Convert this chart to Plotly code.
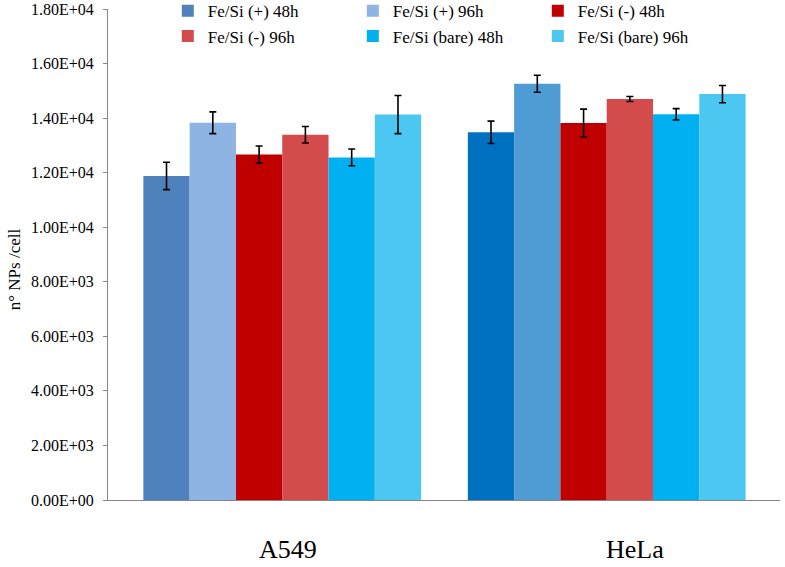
import plotly.graph_objects as go

categories = ["A549", "HeLa"]
series_names = ["Fe/Si (+) 48h", "Fe/Si (+) 96h", "Fe/Si (-) 48h",
                "Fe/Si (-) 96h", "Fe/Si (bare) 48h", "Fe/Si (bare) 96h"]
values = [
    [11880, 13480],
    [13830, 15260],
    [12670, 13820],
    [13390, 14700],
    [12560, 14140],
    [14130, 14880],
]
errors = [
    [500, 410],
    [400, 312],
    [310, 510],
    [300, 90],
    [306, 208],
    [700, 318],
]
colors = [
    ["#4F81BD", "#0070C0"],
    ["#8EB4E3", "#4F9BD4"],
    ["#C00000", "#C00000"],
    ["#D34B4B", "#D34B4B"],
    ["#00B0F0", "#00B0F0"],
    ["#4BC7F2", "#4BC7F2"],
]
tick_vals = [0, 2000, 4000, 6000, 8000, 10000, 12000, 14000, 16000, 18000]
tick_text = [f"{v:.2E}" for v in tick_vals]
y_title = "n° NPs /cell"

FONT = "Liberation Serif, Times New Roman, serif"

fig = go.Figure()
for name, vals, errs, cols in zip(series_names, values, errors, colors):
    fig.add_trace(go.Bar(
        name=name, x=categories, y=vals,
        marker=dict(color=cols, line=dict(width=0)),
        error_y=dict(type="data", array=errs, visible=True,
                     color="black", thickness=1.6, width=3.5),
    ))

fig.update_layout(
    width=785, height=567,
    margin=dict(l=108, r=5, t=9, b=67, autoexpand=False),
    paper_bgcolor="white", plot_bgcolor="white",
    barmode="group", bargap=0.144, bargroupgap=0,
    font=dict(family=FONT, color="black"),
    legend=dict(orientation="h", x=0.089, y=1.032, xanchor="left", yanchor="top",
                entrywidth=140, entrywidthmode="pixels",
                font=dict(family=FONT, size=17, color="black"),
                traceorder="normal", bgcolor="rgba(0,0,0,0)",
                itemclick=False),
    showlegend=True,
)
fig.update_xaxes(
    type="category", range=[-0.537, 1.534],
    showline=True, linecolor="#868686", linewidth=1.2,
    showticklabels=False, ticks="", showgrid=False, zeroline=False,
)
fig.update_yaxes(
    range=[0, 18000], tickvals=tick_vals, ticktext=tick_text,
    showline=True, linecolor="#868686", linewidth=1.2,
    ticks="outside", ticklen=4, tickcolor="#868686", tickwidth=1,
    ticklabelstandoff=6, ticklabeloverflow="allow",
    tickfont=dict(family=FONT, size=16, color="black"),
    showgrid=False, zeroline=False,
)
fig.add_annotation(text=y_title, xref="paper", yref="paper",
                   x=-0.1399, y=0.47, xanchor="center", yanchor="middle",
                   textangle=-90, showarrow=False,
                   font=dict(family=FONT, size=17, color="black"))
shifts = [6, 28]
for cat, sh in zip(categories, shifts):
    fig.add_annotation(text=cat, xref="x", yref="paper", x=cat, y=-0.1018,
                       xshift=sh, xanchor="center", yanchor="middle",
                       showarrow=False,
                       font=dict(family=FONT, size=26, color="black"))

fig.write_html("out.html", config={"displayModeBar": False},
               post_script="document.body.style.margin='0';document.body.style.padding='0';")
